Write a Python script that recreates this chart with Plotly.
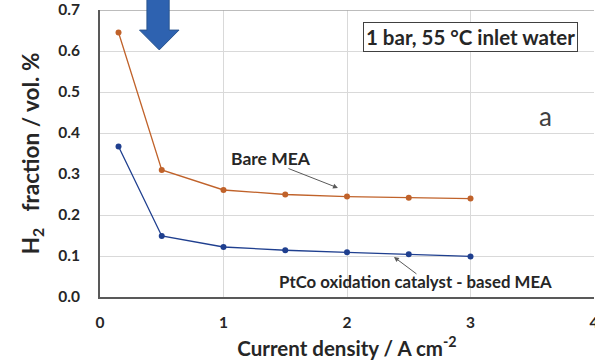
import plotly.graph_objects as go

current_density = [0.15, 0.5, 1.0, 1.5, 2.0, 2.5, 3.0]
bare_mea = [0.645, 0.31, 0.261, 0.250, 0.245, 0.242, 0.240]
ptco_mea = [0.367, 0.149, 0.122, 0.114, 0.109, 0.104, 0.099]

x_ticks = [0, 1, 2, 3, 4]
y_ticks = [0.0, 0.1, 0.2, 0.3, 0.4, 0.5, 0.6, 0.7]

FONT = "Lato"
TXT = "#262626"

fig = go.Figure()
fig.add_trace(go.Scatter(x=current_density, y=bare_mea, mode="lines+markers",
                         line=dict(color="#C0622A", width=1.3),
                         marker=dict(color="#C0622A", size=6), name="Bare MEA"))
fig.add_trace(go.Scatter(x=current_density, y=ptco_mea, mode="lines+markers",
                         line=dict(color="#1F3F8F", width=1.3),
                         marker=dict(color="#1F3F8F", size=6), name="PtCo"))

fig.update_layout(
    width=595, height=364,
    margin=dict(l=100, r=1, t=10, b=67),
    paper_bgcolor="white", plot_bgcolor="white",
    showlegend=False,
    font=dict(family=FONT, color=TXT, size=14),
    xaxis=dict(range=[0, 4], tickvals=x_ticks, ticktext=[f"<b>{v}</b>" for v in x_ticks],
               showgrid=True, gridcolor="#D9D9D9", gridwidth=1,
               showline=True, linecolor="#595959", linewidth=2,
               zeroline=False, ticks="outside", ticklen=10, tickcolor="rgba(0,0,0,0)",
               automargin=False, ticklabeloverflow="allow",
               tickfont=dict(family=FONT, size=15.5, color=TXT),
               title=dict(text="<b>Current density / A cm<sup>-2</sup></b>",
                          font=dict(family=FONT, size=20.5, color=TXT), standoff=12)),
    yaxis=dict(range=[0, 0.7], tickvals=y_ticks, ticktext=[f"<b>{v:.1f}</b>" for v in y_ticks],
               showgrid=True, gridcolor="#D9D9D9", gridwidth=1,
               showline=True, linecolor="#595959", linewidth=2,
               zeroline=False, ticks="outside", ticklen=15, tickcolor="rgba(0,0,0,0)",
               automargin=False, ticklabeloverflow="allow",
               tickfont=dict(family=FONT, size=15.5, color=TXT),
               title=dict(text="<b>H<sub>2</sub>   fraction / vol. %</b>",
                          font=dict(family=FONT, size=22.5, color=TXT), standoff=12)),
)

# top border (0.7 line) slightly darker
fig.add_shape(type="line", xref="paper", yref="y", x0=0, x1=1, y0=0.7, y1=0.7,
              line=dict(color="#A6A6A6", width=1.5))

# block arrow at top
fig.add_shape(type="path", xref="x", yref="paper",
              path="M 0.38 1.06 L 0.56 1.06 L 0.56 0.93 L 0.64 0.93 L 0.48 0.861 "
                   "L 0.32 0.93 L 0.38 0.93 Z",
              fillcolor="#2E62B0", line=dict(color="#2A558F", width=1), layer="above")

fig.add_annotation(x=1.385, y=0.337, text="<b>Bare MEA</b>", showarrow=False,
                   font=dict(family=FONT, size=17.5, color=TXT))
fig.add_annotation(x=1.927, y=0.266, ax=-51, ay=-20, text="", showarrow=True,
                   arrowhead=2, arrowsize=1, arrowwidth=1, arrowcolor="#595959")
fig.add_annotation(x=2.555, y=0.039, text="<b>PtCo oxidation catalyst - based MEA</b>",
                   showarrow=False, font=dict(family=FONT, size=16.8, color=TXT))
fig.add_annotation(x=2.38, y=0.0976, ax=24, ay=18, text="", showarrow=True,
                   arrowhead=2, arrowsize=1, arrowwidth=1, arrowcolor="#595959")
fig.add_annotation(x=3.004, y=0.634, text="<b>1 bar, 55 °C inlet water</b>", showarrow=False,
                   font=dict(family=FONT, size=20.5, color=TXT),
                   bordercolor="#404040", borderwidth=1, borderpad=2, bgcolor="white")
fig.add_annotation(x=3.61, y=0.441, text="a", showarrow=False,
                   font=dict(family=FONT, size=26, color="#404040"))

fig.write_html("out.html", config={"displayModeBar": False},
               post_script="document.body.style.margin='0px';")
